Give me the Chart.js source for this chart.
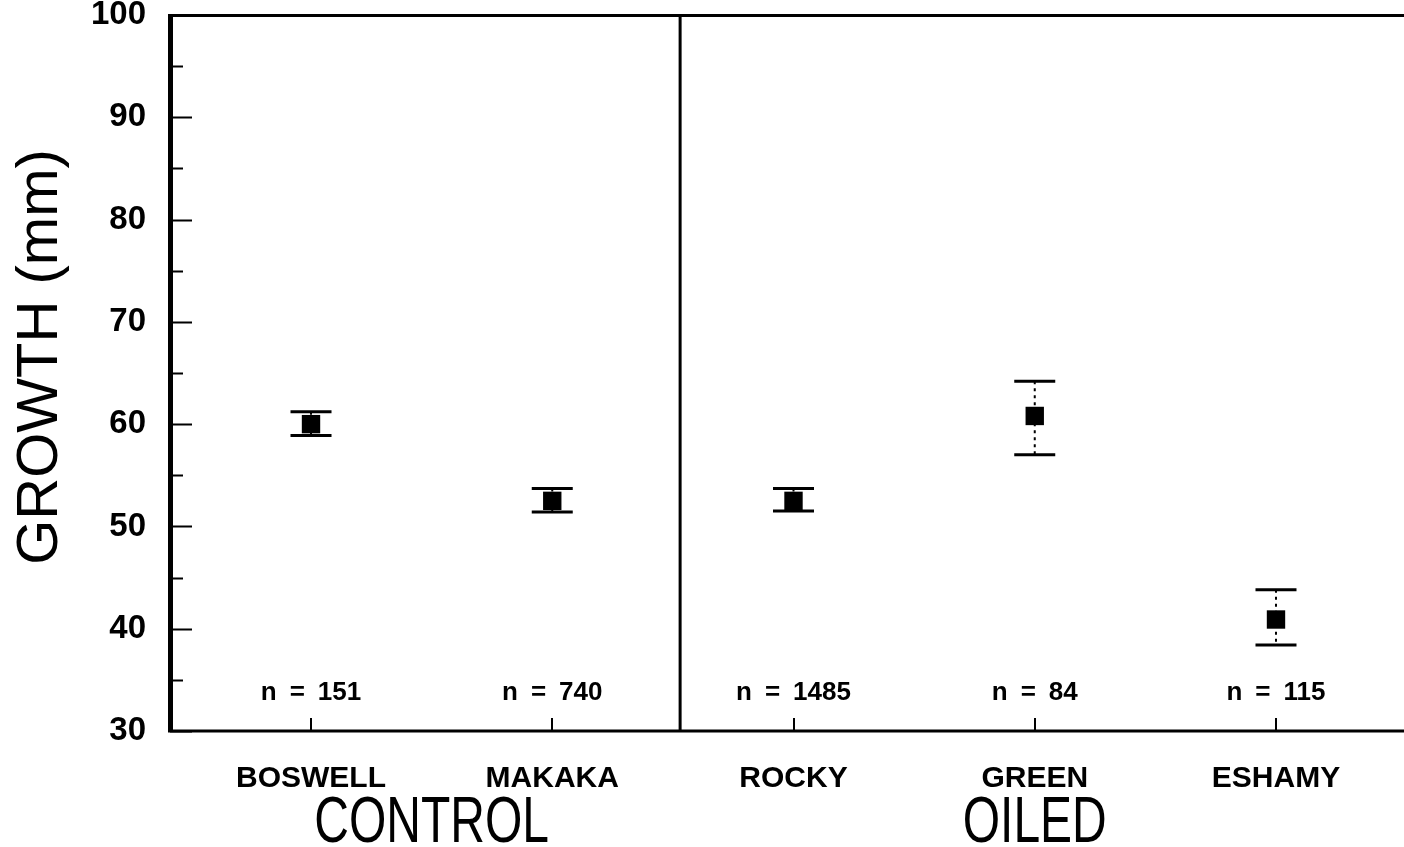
<!DOCTYPE html>
<html>
<head>
<meta charset="utf-8">
<script src="https://cdn.jsdelivr.net/npm/chart.js@4.4.1/dist/chart.umd.min.js"></script>
<style>
  html, body { margin: 0; padding: 0; background: #fff; overflow: hidden; }
  canvas { display: block; }
</style>
</head>
<body>
<canvas id="growth" width="1404" height="847"></canvas>
<script>
// Sites, their treatment group, and growth summary (mean with error limits, mm)
const categories  = ['BOSWELL', 'MAKAKA', 'ROCKY', 'GREEN', 'ESHAMY'];
const siteGroups  = ['CONTROL', 'CONTROL', 'OILED', 'OILED', 'OILED'];
const meanGrowth  = [60.0, 52.5, 52.5, 60.8, 40.9];
const upperLimit  = [61.2, 53.7, 53.7, 64.2, 43.8];
const lowerLimit  = [58.9, 51.4, 51.5, 57.0, 38.4];
const sampleSizes = [151, 740, 1485, 84, 115];
const yMin = 30, yMax = 100, yStep = 10, yMinorStep = 5;

const FONT = "'Liberation Sans', Arial, Helvetica, sans-serif";
const positions = categories.map((_, i) => i + 1);
const dividerAt = 2.53;   // boundary between the two site groups

const points = positions.map((x, i) => ({ x, y: meanGrowth[i] }));

const framePlugin = {
  id: 'frame',
  beforeDatasetsDraw(chart) {
    const { ctx, scales: { x, y } } = chart;
    ctx.save();
    ctx.strokeStyle = '#000';
    positions.forEach((p, i) => {
      const px = x.getPixelForValue(p);
      const top = y.getPixelForValue(upperLimit[i]);
      const bot = y.getPixelForValue(lowerLimit[i]);
      // dotted stem
      ctx.lineWidth = 2;
      ctx.setLineDash([3, 4]);
      ctx.beginPath();
      ctx.moveTo(px, top);
      ctx.lineTo(px, bot);
      ctx.stroke();
      // caps
      ctx.setLineDash([]);
      ctx.lineWidth = 3;
      ctx.beginPath();
      ctx.moveTo(px - 20.5, top); ctx.lineTo(px + 20.5, top);
      ctx.moveTo(px - 20.5, bot); ctx.lineTo(px + 20.5, bot);
      ctx.stroke();
    });
    ctx.restore();
  },
  afterDraw(chart) {
    const { ctx, chartArea: a, scales: { x, y } } = chart;
    ctx.save();
    ctx.strokeStyle = '#000';
    ctx.fillStyle = '#000';
    ctx.lineCap = 'butt';

    // frame: top, left, bottom
    ctx.lineWidth = 3;
    ctx.beginPath();
    ctx.moveTo(a.left, a.top + 0.5); ctx.lineTo(a.right, a.top + 0.5);
    ctx.moveTo(a.left, a.bottom); ctx.lineTo(a.right, a.bottom);
    ctx.stroke();
    ctx.lineWidth = 5;
    ctx.beginPath();
    ctx.moveTo(a.left + 0.5, a.top - 1); ctx.lineTo(a.left + 0.5, a.bottom + 1.5);
    ctx.stroke();

    // group divider
    const dx = x.getPixelForValue(dividerAt);
    ctx.lineWidth = 3;
    ctx.beginPath();
    ctx.moveTo(dx, a.top); ctx.lineTo(dx, a.bottom);
    ctx.stroke();

    // y ticks, major and minor, pointing inward
    ctx.lineWidth = 2;
    ctx.beginPath();
    for (let v = yMin; v <= yMax; v += yMinorStep) {
      const py = Math.round(y.getPixelForValue(v)) + 0.5;
      const len = (v % yStep === 0) ? 19 : 10;
      ctx.moveTo(a.left + 3, py); ctx.lineTo(a.left + 3 + len, py);
    }
    // x ticks pointing up from the bottom axis
    positions.forEach(p => {
      const px = Math.round(x.getPixelForValue(p));
      ctx.moveTo(px, a.bottom); ctx.lineTo(px, a.bottom - 13);
    });
    ctx.stroke();

    // sample sizes
    ctx.font = `bold 26px ${FONT}`;
    ctx.textAlign = 'center';
    ctx.textBaseline = 'middle';
    positions.forEach((p, i) => {
      ctx.fillText(`n\u2002=\u2002${sampleSizes[i]}`, x.getPixelForValue(p), a.bottom - 38);
    });

    // group names under the site labels
    const groupNames = [...new Set(siteGroups)];
    ctx.font = `64px ${FONT}`;
    ctx.textBaseline = 'alphabetic';
    groupNames.forEach(g => {
      const members = positions.filter((_, i) => siteGroups[i] === g);
      const mid = members.reduce((s, v) => s + v, 0) / members.length;
      ctx.save();
      ctx.translate(x.getPixelForValue(mid), 842);
      ctx.scale(0.75, 1);
      ctx.fillText(g, 0, 0);
      ctx.restore();
    });

    // y axis title
    ctx.save();
    ctx.translate(41, (a.top + a.bottom) / 2 - 16);
    ctx.rotate(-Math.PI / 2);
    ctx.font = `58px ${FONT}`;
    ctx.textAlign = 'center';
    ctx.textBaseline = 'middle';
    ctx.fillText('GROWTH (mm)', 0, 0);
    ctx.restore();

    ctx.restore();
  }
};

new Chart(document.getElementById('growth'), {
  type: 'scatter',
  data: {
    datasets: [{
      data: points,
      pointStyle: 'rect',
      pointRadius: 13,
      pointHoverRadius: 13,
      backgroundColor: '#000',
      borderColor: '#000',
      borderWidth: 0
    }]
  },
  options: {
    responsive: false,
    devicePixelRatio: 1,
    animation: false,
    events: [],
    layout: { autoPadding: false, padding: { top: 15, left: 0, right: 0, bottom: 0 } },
    plugins: { legend: { display: false }, tooltip: { enabled: false } },
    scales: {
      x: {
        type: 'linear',
        min: 0.4155,
        max: 5.5306,
        grid: { display: false, drawTicks: false },
        border: { display: false },
        afterFit(s) { s.height = 116; s.paddingLeft = 0; s.paddingRight = 0; },
        afterBuildTicks(s) { s.ticks = positions.map(v => ({ value: v })); },
        ticks: {
          autoSkip: false,
          maxRotation: 0,
          padding: 30,
          color: '#000',
          font: { family: FONT, size: 30, weight: 'bold' },
          callback: v => categories[v - 1]
        }
      },
      y: {
        min: yMin,
        max: yMax,
        grid: { display: false, drawTicks: false },
        border: { display: false },
        afterFit(s) { s.width = 170; s.paddingTop = 0; s.paddingBottom = 0; },
        ticks: {
          stepSize: yStep,
          padding: 24,
          color: '#000',
          font: { family: FONT, size: 33, weight: 'bold' }
        }
      }
    }
  },
  plugins: [framePlugin]
});
</script>
</body>
</html>
